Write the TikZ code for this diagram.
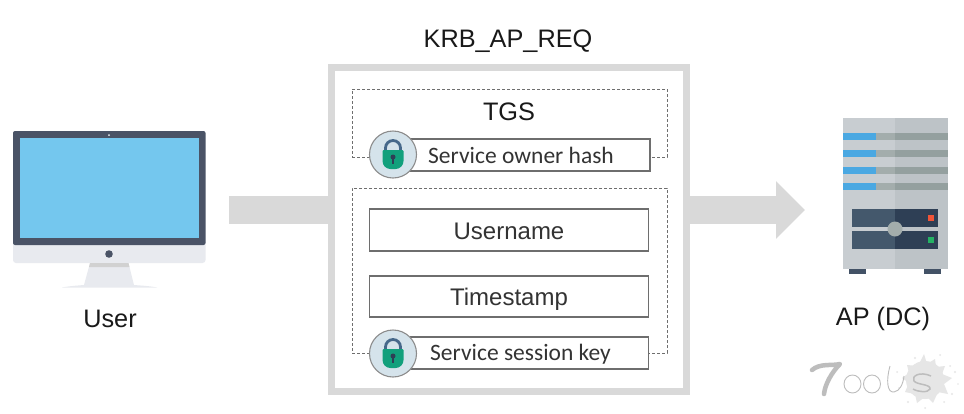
\documentclass[tikz,border=0pt]{standalone}
\usepackage{fontspec}
\setmainfont{Liberation Sans}
\newfontfamily\fieldfont{Carlito}
\usetikzlibrary{arrows.meta}
\definecolor{bandgray}{HTML}{D9D9D9}
\definecolor{linegray}{HTML}{6E6E6E}
\definecolor{lockgreen}{HTML}{12A07C}
\definecolor{lockblue}{HTML}{46688A}
\definecolor{lockdisc}{HTML}{D5E3EB}
\definecolor{bezel}{HTML}{4A5366}
\definecolor{screenblue}{HTML}{74C7EE}
\definecolor{chin}{HTML}{E8EAEF}
\definecolor{caseleft}{HTML}{C8CDD1}
\definecolor{caseright}{HTML}{BDC3C7}
\definecolor{panelleft}{HTML}{44586C}
\definecolor{panelright}{HTML}{2E3F55}
\definecolor{stripeblue}{HTML}{4AA8E2}
\definecolor{stripemid}{HTML}{A3ADAC}
\definecolor{stripedark}{HTML}{94A09F}
\definecolor{ledred}{HTML}{F05438}
\definecolor{ledgreen}{HTML}{24B264}
\definecolor{splat}{HTML}{E6E6E6}
\definecolor{markgray}{HTML}{BDBDBD}
\tikzstyle{band} = [draw=bandgray, line width=28pt]
\tikzstyle{reqbox} = [draw=bandgray, line width=7pt, fill=white, rectangle, inner sep=0pt]
\tikzstyle{dashbox} = [draw=linegray, densely dashed, line width=0.7pt, rectangle, inner sep=0pt]
\tikzstyle{fieldbox} = [draw=linegray, line width=1.1pt, fill=white, rectangle, inner sep=0pt, font=\fontsize{24}{28}\selectfont, text=black!80]
\tikzstyle{keybox} = [fieldbox, font=\fieldfont\fontsize{23.5}{28}\selectfont]
\tikzstyle{lockdiscnode} = [draw=black!45, line width=1.1pt, fill=lockdisc, circle, inner sep=0pt, minimum size=47pt]
\tikzstyle{caption} = [inner sep=0pt, font=\fontsize{25.3}{30}\selectfont, text=black!90]
\newcommand{\padlock}[1]{%
    \begin{scope}[shift={(#1)}]
        \draw[lockblue, line width=2.8pt] (-7.5,-2) -- (-7.5,-6) arc[start angle=180, end angle=360, radius=7.5] -- (7.5,-2);
        \fill[lockgreen, rounded corners=1pt] (-10.5,-4) -- (10.5,-4) [rounded corners=8pt] -- (10.5,15) -- (-10.5,15) [rounded corners=1pt] -- cycle;
        \fill[panelright] (0,3) circle (2.5);
        \fill[panelright] (-1.1,3) rectangle (1.1,9.5);
    \end{scope}}

\begin{document}
\begin{tikzpicture}[x=1pt, y=-1pt]
    \useasboundingbox (0,0) rectangle (964,413);
    \fill[white] (0,0) rectangle (964,413);

    % monitor
    \fill[chin, rounded corners=3pt] (13,240) rectangle (205.5,263);
    \fill[bezel, rounded corners=2pt] (13,131) -- (205.5,131) -- (205.5,245) -- (13,245) -- cycle;
    \fill[screenblue] (20,138) rectangle (198.5,238);
    \fill[chin!60!white] (109,135) circle (1);
    \fill[bezel] (109,254) circle (3.8);
    \fill[chin] (90,263) -- (128.5,263) -- (134,285) .. controls (140,285.5) and (150,286) .. (157,287.5) -- (62,287.5) .. controls (70,286) and (78,285.5) .. (84,285) -- cycle;
    \fill[black!18] (90,263) -- (128.5,263) -- (129.5,267) -- (89,267) -- cycle;
    \node[caption] (user) at (110,318.5) {User};

    % server
    \fill[panelright!90!white] (849,268) rectangle (866,274);
    \fill[panelright!90!white] (924,268) rectangle (941,274);
    \fill[caseleft] (843,118) rectangle (895,269);
    \fill[caseright] (895,118) rectangle (948,269);
    \foreach \y in {133,150,167,183} {
        \fill[stripeblue] (843,\y) rectangle (876,\y+7);
        \fill[stripemid] (876,\y) rectangle (895,\y+7);
        \fill[stripedark] (895,\y) rectangle (947.5,\y+7);
    }
    \fill[panelleft] (852,209) rectangle (895,227);
    \fill[panelright] (895,209) rectangle (938,227);
    \fill[panelleft] (852,231) rectangle (895,248.5);
    \fill[panelright] (895,231) rectangle (938,248.5);
    \fill[stripemid] (895,229) circle (7.5);
    \fill[ledred] (928,215) rectangle (934,221);
    \fill[ledgreen] (928,237) rectangle (934,243);
    \node[caption] (apdc) at (883,319) {AP (DC)};

    % request box and its two bands
    \node[reqbox, minimum width=355pt, minimum height=324pt] (req) at (509,229.5) {};
    \coordinate (bandin) at (229,210);
    \coordinate (bandout) at (805,210);
    \draw[band] (bandin) -- (bandin -| req.west);
    \draw[band, -{Triangle[length=29pt, width=56pt, color=bandgray]}] (bandout -| req.east) -- (bandout);
    \node[caption] (reqtitle) at (508,41) {KRB\_AP\_REQ};

    % TGS part
    \node[dashbox, minimum width=315pt, minimum height=68pt] (tgsarea) at (509.5,123) {};
    \node[caption] (tgs) at (509,112) {TGS};
    \node[keybox, minimum width=240pt, minimum height=32pt] (ownerhash) at (530,155) {\hspace*{-18pt}Service owner hash};
    \node[lockdiscnode] (ownerdisc) at (393,154.5) {};
    \padlock{393,154}

    % session part
    \node[dashbox, minimum width=315pt, minimum height=165pt] (sessarea) at (509.5,270.5) {};
    \node[fieldbox, minimum width=279pt, minimum height=42pt] (username) at (509,230) {\raisebox{-1.5pt}[\height][\depth]{Username}};
    \node[fieldbox, minimum width=279pt, minimum height=41pt] (timestamp) at (509,296.5) {\raisebox{-2.5pt}[\height][\depth]{Timestamp}};
    \node[keybox, minimum width=238.5pt, minimum height=32pt] (sesskey) at (529.5,353) {\hspace*{-18pt}\raisebox{-1.5pt}[\height][\depth]{Service session key}};
    \node[lockdiscnode] (sessdisc) at (393,353.5) {};
    \padlock{393,353}

    % watermark
    \fill[splat] (925,380) circle (19);
    \fill[splat] (907,365) -- (918,366) -- (924,354) -- (927,364) -- (935,359) -- (936,367) -- (945,366) -- (942,374) -- (952,378) -- (944,384) -- (948,394) -- (938,392) -- (933,403) -- (926,396) -- (917,403) -- (915,394) -- (905,392) -- (909,383) -- (902,378) -- (909,373) -- cycle;
    \foreach \dx/\dy/\r in {950/366/1, 955/372/1.2, 958/384/0.9, 952/394/1.1, 944/402/1, 925/408/1, 908/402/1.2, 899/388/0.9, 897/372/1, 915/358/1.1, 940/355/1}
        \fill[splat] (\dx,\dy) circle (\r);
    \draw[markgray, line width=4.5pt, line cap=round, line join=round] (812,370) .. controls (820,363) and (832,366) .. (840,364) .. controls (832,372) and (825,384) .. (824,394);
    \draw[markgray, line width=0.9pt] (852.5,384) ellipse (8.5 and 9);
    \draw[markgray, line width=0.9pt] (872,384) ellipse (8.5 and 9);
    \draw[markgray, line width=0.9pt] (890,366) .. controls (886,380) and (887,393) .. (894,392) .. controls (900,391) and (903,384) .. (904,376);
    \draw[markgray, line width=1.5pt] (931,376) .. controls (920,371) and (911,376) .. (914,381) .. controls (917,385) and (931,384) .. (930,389) .. controls (928,393) and (918,392) .. (913,389);
\end{tikzpicture}
\end{document}
